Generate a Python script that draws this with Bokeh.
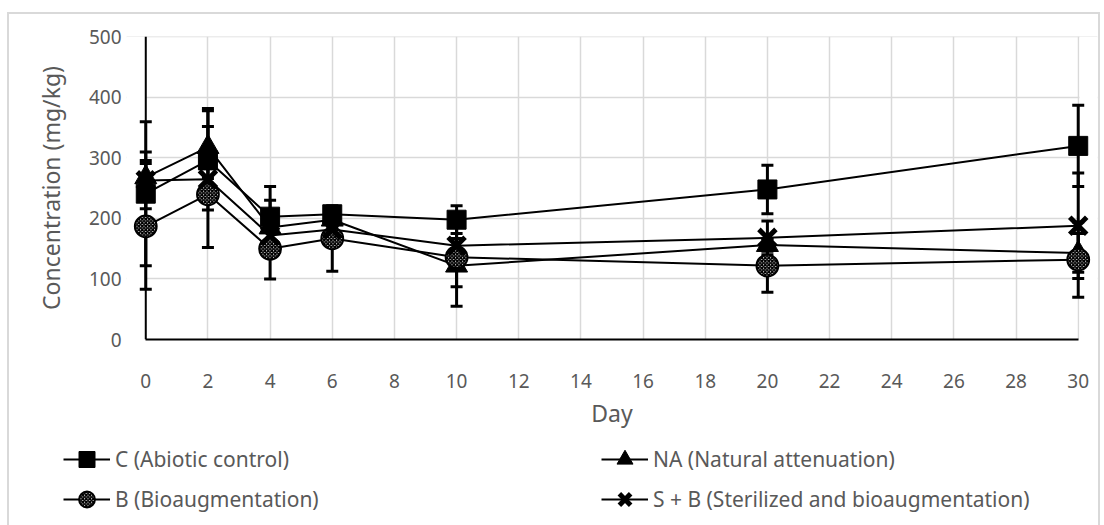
from bokeh.plotting import figure
from bokeh.layouts import column
from bokeh.models import (Range1d, FixedTicker, Whisker, TeeHead, ColumnDataSource,
                          Legend, LegendItem, BoxAnnotation, Span, InlineStyleSheet)
from bokeh.embed import file_html
from bokeh.resources import INLINE

# Sampling days and mean concentrations (mg/kg) with their error bars
days = [0, 2, 4, 6, 10, 20, 30]

c_abiotic = [241, 296, 203, 207, 198, 248, 320]
c_err = [119, 56, 50, 10, 23, 40, 67]

na_natural = [268, 318, 185, 198, 122, 156, 143]
na_err = [28, 64, 45, 12, 67, 10, 32]

b_bioaug = [187, 240, 150, 167, 136, 122, 132]
b_err = [104, 26, 50, 54, 49, 44, 62]

sb_steril = [263, 265, 172, 182, 155, 168, 188]
sb_err = [47, 113, 15, 15, 12, 28, 87]

x_ticks = list(range(0, 31, 2))
y_ticks = [0, 100, 200, 300, 400, 500]

FONT = "Noto Sans"
GREY_TXT = "#595959"
GRID = "#d9d9d9"
W = 1104
H_MAIN = 436
H_KEY = 525 - H_MAIN

# light frame around the whole chart area (split over the two canvases)
top_css = InlineStyleSheet(css=f"""
:host::after {{
  content: ""; position: absolute; left: 7px; top: 12px;
  width: 1093px; height: {H_MAIN - 12}px; box-sizing: border-box;
  border: 2px solid {GRID}; border-bottom: none; pointer-events: none;
}}
""")
bottom_css = InlineStyleSheet(css=f"""
:host::after {{
  content: ""; position: absolute; left: 7px; top: 0px;
  width: 1093px; height: {H_KEY}px; box-sizing: border-box;
  border: 2px solid {GRID}; border-top: none; border-bottom: none;
  pointer-events: none;
}}
""")

p = figure(width=W, height=H_MAIN, output_backend="svg", toolbar_location=None,
           x_range=Range1d(-0.62, 30.62), y_range=Range1d(0, 500.8),
           min_border_left=126, min_border_right=7, min_border_top=36,
           min_border_bottom=H_MAIN - 339, stylesheets=[top_css],
           frame_align=False)
p.outline_line_color = None
p.background_fill_color = "white"
p.border_fill_color = "white"

# axes
p.xaxis.ticker = FixedTicker(ticks=x_ticks)
p.xaxis.bounds = (0, 30)
p.yaxis.ticker = FixedTicker(ticks=y_ticks)
for ax in (p.xaxis[0], p.yaxis[0]):
    ax.axis_line_color = "black"
    ax.axis_line_width = 2
    ax.major_tick_line_color = None
    ax.minor_tick_line_color = None
    ax.major_label_text_font = FONT
    ax.major_label_text_font_size = "19px"
    ax.major_label_text_color = GREY_TXT
    ax.axis_label_text_font = FONT
    ax.axis_label_text_font_size = "23px"
    ax.axis_label_text_font_style = "normal"
    ax.axis_label_text_color = GREY_TXT
p.yaxis.axis_line_color = None
p.xaxis.axis_label = "Day"
p.yaxis.axis_label = "Concentration (mg/kg)"
p.xaxis.major_label_standoff = 28
p.xaxis.axis_label_standoff = 6
p.yaxis.major_label_standoff = -1
p.yaxis.axis_label_standoff = 19

p.grid.grid_line_color = GRID
p.grid.grid_line_width = 1.5

# keep the horizontal grid inside the 0..30 day span
p.add_layout(BoxAnnotation(right=0, fill_color="white", fill_alpha=1,
                           line_alpha=0, level="underlay"))
p.add_layout(BoxAnnotation(left=30.04, fill_color="white", fill_alpha=1,
                           line_alpha=0, level="underlay"))
# vertical axis line at day 0
p.add_layout(Span(location=0, dimension="height", line_color="black",
                  line_width=2, level="underlay"))

series = [
    ("C (Abiotic control)", c_abiotic, c_err,
     dict(marker="square", size=19, fill_color="black", line_color="black")),
    ("NA (Natural attenuation)", na_natural, na_err,
     dict(marker="triangle", size=22, fill_color="black", line_color="black")),
    ("B (Bioaugmentation)", b_bioaug, b_err,
     dict(marker="circle", size=22, fill_color="white", line_color="black",
          line_width=1.8, hatch_pattern="diagonal_cross", hatch_scale=3.5,
          hatch_weight=1.8, hatch_color="black")),
    ("S + B (Sterilized and bioaugmentation)", sb_steril, sb_err,
     dict(marker="x", size=24, line_color="black", line_width=5)),
]

for label, vals, err, mk in series:
    src = ColumnDataSource(dict(
        day=days, val=vals,
        upper=[v + e for v, e in zip(vals, err)],
        lower=[v - e for v, e in zip(vals, err)],
    ))
    p.add_layout(Whisker(base="day", upper="upper", lower="lower", source=src,
                         line_color="black", line_width=3,
                         upper_head=TeeHead(size=12, line_color="black", line_width=3),
                         lower_head=TeeHead(size=12, line_color="black", line_width=3)))
    p.line("day", "val", source=src, line_color="black", line_width=2)
    p.scatter("day", "val", source=src, **mk)

# legend strip underneath the plot
k = figure(width=W, height=H_KEY, output_backend="svg", toolbar_location=None,
           x_axis_type=None, y_axis_type=None, min_border=0,
           x_range=Range1d(0, 1), y_range=Range1d(0, 1), stylesheets=[bottom_css],
           frame_align=False)
k.outline_line_color = None
k.grid.visible = False
k.border_fill_color = "white"

key_items = {}
for label, vals, err, mk in series:
    # legend keys only: a single undefined point, nothing drawn in the strip
    key_src = ColumnDataSource(dict(day=[float("nan")], val=[float("nan")]))
    ln = k.line("day", "val", source=key_src, line_color="black", line_width=2)
    pts = k.scatter("day", "val", source=key_src, **mk)
    key_items[label] = LegendItem(label=label, renderers=[ln, pts])


def make_legend(labels, x):
    return Legend(items=[key_items[l] for l in labels], location=(x, 6),
                  glyph_width=47, glyph_height=40, label_height=40,
                  label_standoff=5, spacing=0, padding=0, margin=0,
                  border_line_alpha=0, background_fill_alpha=0,
                  label_text_font=FONT, label_text_font_size="21px",
                  label_text_color=GREY_TXT)


k.add_layout(make_legend(["C (Abiotic control)", "B (Bioaugmentation)"], 63))
k.add_layout(make_legend(["NA (Natural attenuation)",
                          "S + B (Sterilized and bioaugmentation)"], 601))

page = column(p, k, spacing=0)
open("out.html", "w").write(file_html(page, INLINE))
